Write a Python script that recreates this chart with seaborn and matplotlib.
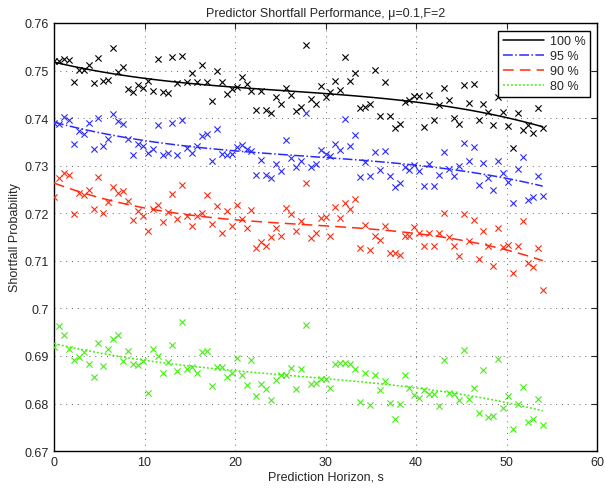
import numpy as np
import pandas as pd
import matplotlib
matplotlib.use("Agg")
import matplotlib.pyplot as plt
import seaborn as sns

horizon = np.linspace(0, 54, 100)

p100 = [0.7519, 0.7519, 0.7524, 0.7523, 0.7475, 0.7502, 0.7502, 0.7512, 0.7473, 0.7526,
        0.7478, 0.7481, 0.7548, 0.7496, 0.7508, 0.7461, 0.7454, 0.7470, 0.7463, 0.7477,
        0.7456, 0.7524, 0.7454, 0.7453, 0.7528, 0.7474, 0.7531, 0.7475, 0.7494, 0.7475,
        0.7512, 0.7475, 0.7435, 0.7500, 0.7475, 0.7451, 0.7461, 0.7465, 0.7486, 0.7472,
        0.7456, 0.7417, 0.7458, 0.7418, 0.7410, 0.7444, 0.7430, 0.7463, 0.7449, 0.7414,
        0.7424, 0.7554, 0.7440, 0.7430, 0.7468, 0.7444, 0.7454, 0.7479, 0.7460, 0.7528,
        0.7477, 0.7495, 0.7421, 0.7423, 0.7429, 0.7501, 0.7404, 0.7475, 0.7404, 0.7379,
        0.7388, 0.7433, 0.7439, 0.7446, 0.7446, 0.7381, 0.7449, 0.7395, 0.7428, 0.7463,
        0.7438, 0.7400, 0.7388, 0.7470, 0.7432, 0.7471, 0.7395, 0.7430, 0.7412, 0.7386,
        0.7444, 0.7412, 0.7383, 0.7337, 0.7410, 0.7375, 0.7385, 0.7368, 0.7421, 0.7379]

p95 = [0.7390, 0.7388, 0.7403, 0.7395, 0.7346, 0.7372, 0.7367, 0.7390, 0.7334, 0.7400,
       0.7341, 0.7356, 0.7409, 0.7393, 0.7388, 0.7356, 0.7323, 0.7346, 0.7341, 0.7327,
       0.7335, 0.7386, 0.7323, 0.7327, 0.7390, 0.7323, 0.7395, 0.7337, 0.7327, 0.7342,
       0.7362, 0.7367, 0.7309, 0.7378, 0.7325, 0.7323, 0.7325, 0.7340, 0.7344, 0.7334,
       0.7330, 0.7281, 0.7311, 0.7281, 0.7274, 0.7304, 0.7288, 0.7354, 0.7316, 0.7297,
       0.7309, 0.7410, 0.7298, 0.7304, 0.7332, 0.7325, 0.7321, 0.7346, 0.7332, 0.7398,
       0.7342, 0.7365, 0.7276, 0.7307, 0.7279, 0.7328, 0.7291, 0.7330, 0.7278, 0.7256,
       0.7263, 0.7297, 0.7291, 0.7302, 0.7288, 0.7258, 0.7304, 0.7258, 0.7281, 0.7328,
       0.7293, 0.7278, 0.7300, 0.7348, 0.7309, 0.7339, 0.7260, 0.7305, 0.7274, 0.7248,
       0.7309, 0.7285, 0.7265, 0.7222, 0.7292, 0.7319, 0.7227, 0.7234, 0.7278, 0.7237]

p90 = [0.7234, 0.7274, 0.7284, 0.7281, 0.7199, 0.7243, 0.7239, 0.7248, 0.7209, 0.7276,
       0.7201, 0.7223, 0.7255, 0.7243, 0.7246, 0.7225, 0.7185, 0.7204, 0.7194, 0.7162,
       0.7208, 0.7218, 0.7181, 0.7202, 0.7241, 0.7188, 0.7260, 0.7194, 0.7174, 0.7194,
       0.7201, 0.7239, 0.7178, 0.7216, 0.7158, 0.7204, 0.7174, 0.7218, 0.7188, 0.7169,
       0.7207, 0.7127, 0.7139, 0.7131, 0.7151, 0.7169, 0.7152, 0.7211, 0.7199, 0.7162,
       0.7183, 0.7264, 0.7148, 0.7159, 0.7190, 0.7192, 0.7152, 0.7213, 0.7190, 0.7222,
       0.7209, 0.7229, 0.7127, 0.7176, 0.7122, 0.7152, 0.7143, 0.7174, 0.7117, 0.7116,
       0.7113, 0.7152, 0.7152, 0.7171, 0.7159, 0.7132, 0.7159, 0.7132, 0.7159, 0.7201,
       0.7149, 0.7132, 0.7110, 0.7199, 0.7141, 0.7186, 0.7104, 0.7163, 0.7132, 0.7090,
       0.7169, 0.7129, 0.7134, 0.7075, 0.7131, 0.7183, 0.7096, 0.7088, 0.7127, 0.7038]

p80 = [0.6919, 0.6962, 0.6945, 0.6915, 0.6892, 0.6898, 0.6908, 0.6884, 0.6856, 0.6928,
       0.6879, 0.6914, 0.6935, 0.6945, 0.6889, 0.6910, 0.6884, 0.6880, 0.6889, 0.6822,
       0.6915, 0.6900, 0.6865, 0.6887, 0.6922, 0.6868, 0.6971, 0.6872, 0.6877, 0.6865,
       0.6908, 0.6910, 0.6836, 0.6877, 0.6877, 0.6856, 0.6865, 0.6896, 0.6860, 0.6838,
       0.6891, 0.6816, 0.6840, 0.6830, 0.6808, 0.6849, 0.6860, 0.6860, 0.6874, 0.6830,
       0.6873, 0.6964, 0.6840, 0.6844, 0.6852, 0.6852, 0.6833, 0.6884, 0.6886, 0.6886,
       0.6884, 0.6872, 0.6803, 0.6864, 0.6797, 0.6859, 0.6829, 0.6847, 0.6801, 0.6767,
       0.6800, 0.6859, 0.6833, 0.6817, 0.6812, 0.6828, 0.6821, 0.6821, 0.6795, 0.6891,
       0.6823, 0.6821, 0.6807, 0.6912, 0.6809, 0.6833, 0.6781, 0.6871, 0.6772, 0.6774,
       0.6893, 0.6791, 0.6816, 0.6747, 0.6800, 0.6835, 0.6762, 0.6767, 0.6810, 0.6755]

labels = ["100 %", "95 %", "90 %", "80 %"]
colors = ["#000000", "#2a2aff", "#ff2a10", "#44ee11"]
styles = ["-", "-.", (0, (7, 4)), (0, (1.3, 1.3))]
xticks = [0, 10, 20, 30, 40, 50, 60]
yticks = [0.67, 0.68, 0.69, 0.70, 0.71, 0.72, 0.73, 0.74, 0.75, 0.76]
yticklabels = ["0.67", "0.68", "0.69", "0.7", "0.71", "0.72", "0.73", "0.74", "0.75", "0.76"]

sns.set_style("white")
plt.rcParams["font.family"] = ["Liberation Sans", "DejaVu Sans"]
plt.rcParams["font.size"] = 9

fig = plt.figure(figsize=(6.05, 4.89), dpi=100)
ax = fig.add_axes([0.0893, 0.0755, 0.8975, 0.8755])

for vals, lab, c, ls in zip([p100, p95, p90, p80], labels, colors, styles):
    df = pd.DataFrame({"h": horizon, "p": vals})
    coef = np.polyfit(df["h"], df["p"], 3)
    df["fit"] = np.polyval(coef, df["h"])
    sns.scatterplot(data=df, x="h", y="p", marker="x", color=c, s=20,
                    linewidth=0.8, ax=ax, legend=False, zorder=3)
    sns.lineplot(data=df, x="h", y="fit", color=c, linestyle=ls, lw=1.1,
                 ax=ax, label=lab, zorder=4)

ax.set_xlim(0, 60)
ax.set_ylim(0.67, 0.76)
ax.set_xticks(xticks)
ax.set_yticks(yticks)
ax.set_yticklabels(yticklabels)
ax.grid(True, linestyle=(0, (1, 5)), color="#666666", linewidth=0.7)
ax.tick_params(direction="in", length=4, top=True, right=True, labelsize=9, width=0.8)
for sp in ax.spines.values():
    sp.set_color("black")
    sp.set_linewidth(1.0)

ax.set_xlabel("Prediction Horizon, s", fontsize=9, labelpad=2)
ax.set_ylabel("Shortfall Probability", fontsize=9, labelpad=3)
ax.set_title("Predictor Shortfall Performance, \u03bc=0.1,F=2", fontsize=9, pad=5)

leg = ax.legend(loc="upper right", bbox_to_anchor=(0.988, 0.982), borderaxespad=0,
                fancybox=False, edgecolor="black", framealpha=1, fontsize=9,
                handlelength=3.3, borderpad=0.35, labelspacing=0.25, handletextpad=0.5)
leg.get_frame().set_linewidth(1.0)

fig.savefig("out.png", dpi=100)
